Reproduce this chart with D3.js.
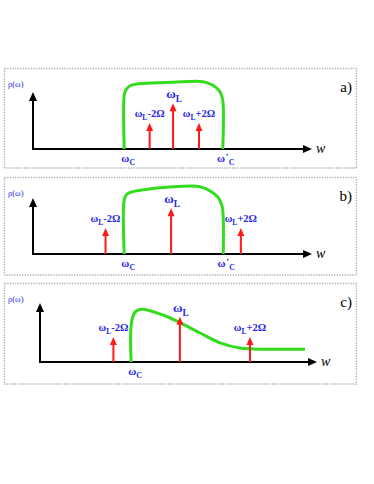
<!DOCTYPE html>
<html>
<head>
<meta charset="utf-8">
<script src="https://cdn.jsdelivr.net/npm/d3@7"></script>
<style>
  html, body { margin: 0; padding: 0; background: #fff; }
  svg { display: block; }
</style>
</head>
<body>
<div id="chart"></div>
<script>
// panel data (frequency axis in arbitrary units 0..100, density 0..1)
var panelNames = ["a)", "b)", "c)"];
var omegaC = [32.7, 32.7, 32.9];
var omegaCPrime = [68.0, 68.2, null];
var arrowNames = ["-2Ω", "", "+2Ω"];
var arrowPos = [[41.8, 50.2, 59.5], [26, 49.5, 74.5], [26.5, 50.5, 75.8]];
var arrowHeight = [[0.45, 0.79, 0.45], [0.45, 0.79, 0.45], [0.43, 0.78, 0.43]];

var densityA = [[32.7, 0], [32.7, 0.93], [33.3, 1.02], [34.8, 1.09], [37.2, 1.12], [50.2, 1.15],
    [60.9, 1.16], [64.5, 1.10], [67.0, 0.99], [68.0, 0.84], [68.0, 0]];
var densityB = [[32.7, 0], [32.7, 0.93], [33.6, 1.03], [35.4, 1.07], [38.4, 1.10], [50.2, 1.16],
    [59.9, 1.16], [64.1, 1.07], [66.4, 0.97], [67.8, 0.82], [68.2, 0.59], [68.2, 0]];
var densityC = [[32.9, 0], [33.0, 0.67], [34.3, 0.86], [36.7, 0.91], [44.4, 0.81], [50.5, 0.68],
    [57.8, 0.50], [65.0, 0.33], [72.2, 0.24], [82.0, 0.22], [95.7, 0.22]];
var densities = [densityA, densityB, densityC];

// layout of each framed panel
var frames = [
    {top: 68.5, bottom: 168, x0: 33, xEnd: 312, y0: 149, yTop: 92},
    {top: 177.5, bottom: 275, x0: 33, xEnd: 312, y0: 254, yTop: 198},
    {top: 283.5, bottom: 384, x0: 40, xEnd: 317, y0: 362, yTop: 303}
];

var width = 374, height = 484;
var blue = "#2626e8", red = "#ff1a1a", green = "#33dd1e";

var svg = d3.select("#chart")
    .append("svg")
    .attr("width", width)
    .attr("height", height);

function arrowHead(g, x, y, dir, w, h, color) {
    // dir: "up" or "right", (x, y) is the tip
    var pts = dir === "up"
        ? [[x, y], [x - w / 2, y + h], [x + w / 2, y + h]]
        : [[x, y], [x - h, y - w / 2], [x - h, y + w / 2]];
    g.append("polygon")
        .attr("points", pts.map(function (p) { return p.join(","); }).join(" "))
        .attr("fill", color);
}

function omegaLabel(g, x, y, size, sub, rest, prime) {
    var t = g.append("text")
        .attr("x", x)
        .attr("y", y)
        .attr("text-anchor", "middle")
        .attr("font-family", "'Liberation Serif', 'DejaVu Serif', serif")
        .attr("font-weight", "bold")
        .attr("font-size", size)
        .attr("fill", blue);
    t.append("tspan").text(prime ? "ω΄" : "ω");
    t.append("tspan").attr("dy", size * 0.3).attr("font-size", size * 0.72).text(sub);
    if (rest) {
        t.append("tspan").attr("dy", -size * 0.3).text(rest);
    }
}

frames.forEach(function (f, i) {
    var g = svg.append("g");

    var x = d3.scaleLinear().domain([0, 100]).range([f.x0, f.xEnd]);
    var y = d3.scaleLinear().domain([0, 1]).range([f.y0, f.y0 - 58]);

    // dotted frame
    g.append("rect")
        .attr("x", 4.5)
        .attr("y", f.top)
        .attr("width", 352)
        .attr("height", f.bottom - f.top)
        .attr("fill", "none")
        .attr("stroke", "#a9b9bd")
        .attr("stroke-width", 1.4)
        .attr("stroke-dasharray", "1.4,1.2");

    // axes
    g.append("line")
        .attr("x1", f.x0).attr("y1", f.y0)
        .attr("x2", f.xEnd - 6).attr("y2", f.y0)
        .attr("stroke", "#000").attr("stroke-width", 2);
    arrowHead(g, f.xEnd, f.y0, "right", 8, 9, "#000");
    g.append("line")
        .attr("x1", f.x0).attr("y1", f.y0 + 1)
        .attr("x2", f.x0).attr("y2", f.yTop + 6)
        .attr("stroke", "#000").attr("stroke-width", 2);
    arrowHead(g, f.x0, f.yTop, "up", 8, 9, "#000");

    g.append("text")
        .attr("x", f.xEnd + 4)
        .attr("y", f.y0 + 4)
        .attr("font-family", "'Liberation Serif', serif")
        .attr("font-style", "italic")
        .attr("font-size", 14)
        .text("w");

    g.append("text")
        .attr("x", 8)
        .attr("y", f.top + 18)
        .attr("font-family", "'Liberation Serif', serif")
        .attr("font-size", 8.5)
        .attr("fill", blue)
        .text("ρ(ω)");

    g.append("text")
        .attr("x", 352)
        .attr("y", f.top + 23)
        .attr("text-anchor", "end")
        .attr("font-family", "'Liberation Serif', serif")
        .attr("font-size", 15)
        .text(panelNames[i]);

    // density of states
    var line = d3.line()
        .x(function (d) { return x(d[0]); })
        .y(function (d) { return y(d[1]); })
        .curve(d3.curveCatmullRom.alpha(0.5));
    g.append("path")
        .datum(densities[i])
        .attr("d", line)
        .attr("fill", "none")
        .attr("stroke", green)
        .attr("stroke-width", 3)
        .attr("stroke-linejoin", "round");

    // laser lines
    arrowPos[i].forEach(function (p, j) {
        var tip = y(arrowHeight[i][j]);
        g.append("line")
            .attr("x1", x(p)).attr("y1", f.y0)
            .attr("x2", x(p)).attr("y2", tip + 6)
            .attr("stroke", red).attr("stroke-width", 2);
        arrowHead(g, x(p), tip, "up", 7, 8, red);
        var main = j === 1;
        omegaLabel(g, x(p) + (main ? 1 : 0), tip - (main ? 5 : 6), main ? 13 : 10.5,
            "L", arrowNames[j], false);
    });

    // cut-off frequencies
    omegaLabel(g, x(omegaC[i]) + 4, f.y0 + 13, 11, "C", "", false);
    if (omegaCPrime[i] !== null) {
        omegaLabel(g, x(omegaCPrime[i]) + 3, f.y0 + 13, 11, "C", "", true);
    }
});
</script>
</body>
</html>
